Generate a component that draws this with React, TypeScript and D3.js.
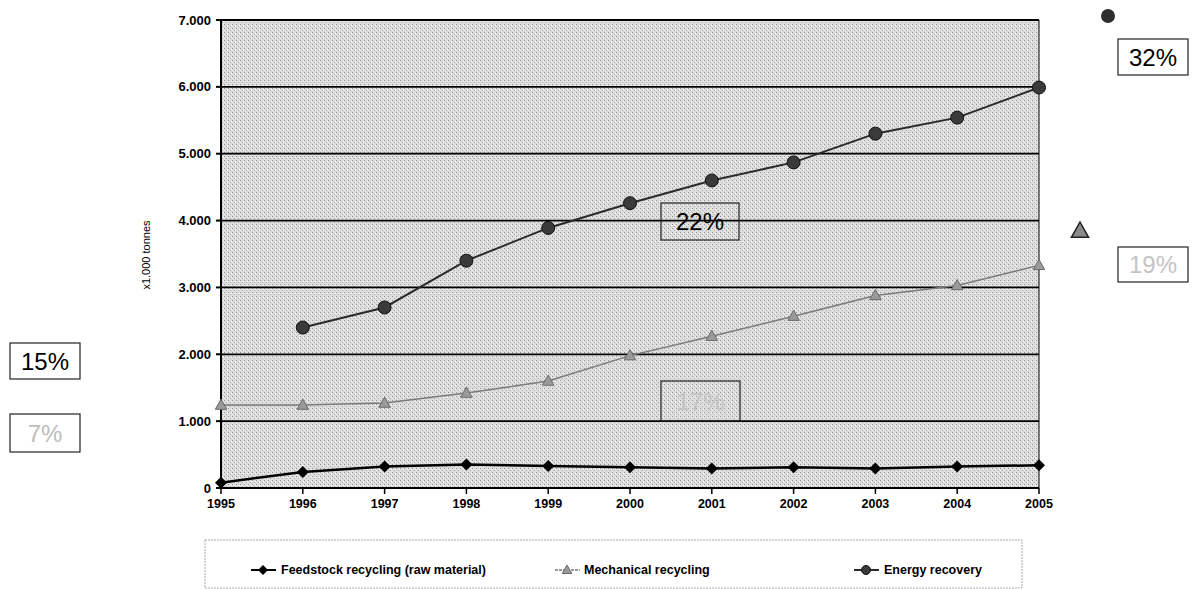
import React from "react";
import * as d3 from "d3";

const years = [1995, 1996, 1997, 1998, 1999, 2000, 2001, 2002, 2003, 2004, 2005];
const feedstock = [80, 240, 320, 350, 330, 310, 290, 310, 290, 320, 340];
const mechanical = [1240, 1240, 1270, 1420, 1600, 1980, 2270, 2570, 2880, 3030, 3330];
const energy: (number | null)[] = [null, 2400, 2700, 3400, 3890, 4260, 4600, 4870, 5300, 5540, 5990];
const yTicks = [0, 1000, 2000, 3000, 4000, 5000, 6000, 7000];
const yTickLabels = ["0", "1.000", "2.000", "3.000", "4.000", "5.000", "6.000", "7.000"];
const seriesNames = ["Feedstock recycling (raw material)", "Mechanical recycling", "Energy recovery"];
const yTitle = "x1.000 tonnes";

type Note = { text: string; x: number; y: number; w: number; h: number; color: string };
const notes: Note[] = [
  { text: "15%", x: 10, y: 343, w: 70, h: 36, color: "#000" },
  { text: "7%", x: 10, y: 414, w: 70, h: 38, color: "#bdbdbd" },
  { text: "22%", x: 661, y: 203, w: 78, h: 37, color: "#000" },
  { text: "17%", x: 661, y: 381, w: 79, h: 40, color: "#c4c4c4" },
  { text: "32%", x: 1118, y: 39, w: 70, h: 36, color: "#000" },
  { text: "19%", x: 1118, y: 247, w: 70, h: 35, color: "#c4c4c4" },
];

const FONT = "'Liberation Sans', Arial, sans-serif";

export default function App() {
  const W = 1202, H = 589;
  const left = 221, right = 1039, top = 20, bottom = 488;
  const x = d3.scaleLinear().domain([1995, 2005]).range([left, right]);
  const y = d3.scaleLinear().domain([0, 7000]).range([bottom, top]);

  const lineF = d3.line<number>().x((_, i) => x(years[i])).y((d) => y(d));
  const lineE = d3
    .line<number | null>()
    .defined((d) => d != null)
    .x((_, i) => x(years[i]))
    .y((d) => y(d as number));

  const diamond = (cx: number, cy: number, r: number) =>
    `M${cx},${cy - r}L${cx + r},${cy}L${cx},${cy + r}L${cx - r},${cy}Z`;
  const tri = (cx: number, cy: number, r: number) =>
    `M${cx},${cy - r}L${cx + r * 0.95},${cy + r * 0.7}L${cx - r * 0.95},${cy + r * 0.7}Z`;

  return (
    <svg width={W} height={H} style={{ position: "absolute", left: 0, top: 0, background: "#fff" }}>
      <defs>
        <pattern id="tex" width="4" height="4" patternUnits="userSpaceOnUse">
          <rect width="4" height="4" fill="#dedede" />
          <rect x="0" y="0" width="1" height="1" fill="#939393" />
          <rect x="2" y="2" width="1" height="1" fill="#a8a8a8" />
          <rect x="3" y="1" width="1" height="1" fill="#f4f4f4" />
        </pattern>
      </defs>
      <rect x={left} y={top} width={right - left} height={bottom - top} fill="url(#tex)" />
      {yTicks.map((t) => (
        <line key={"g" + t} x1={left} x2={right} y1={y(t)} y2={y(t)} stroke="#000" strokeWidth={t === 0 ? 2 : 1.8} />
      ))}
      <line x1={right} x2={right} y1={top} y2={bottom} stroke="#000" strokeWidth={1} />
      <line x1={left} x2={left} y1={top} y2={bottom} stroke="#000" strokeWidth={2} />
      {yTicks.map((t, i) => (
        <g key={"yt" + t}>
          <line x1={left - 5} x2={left} y1={y(t)} y2={y(t)} stroke="#000" strokeWidth={2} />
          <text x={left - 10} y={y(t)} dy="0.35em" textAnchor="end" fontFamily={FONT} fontWeight="bold" fontSize={13}>
            {yTickLabels[i]}
          </text>
        </g>
      ))}
      <text
        transform={`translate(150,255) rotate(-90)`}
        textAnchor="middle"
        fontFamily={FONT}
        fontSize={11}
      >
        {yTitle}
      </text>
      {years.map((yr) => (
        <g key={"xt" + yr}>
          <line x1={x(yr)} x2={x(yr)} y1={bottom} y2={bottom + 6} stroke="#000" strokeWidth={1.5} />
          <text x={x(yr)} y={bottom + 20} textAnchor="middle" fontFamily={FONT} fontWeight="bold" fontSize={12.5}>
            {yr}
          </text>
        </g>
      ))}
      <path d={lineE(energy) || ""} fill="none" stroke="#2a2a2a" strokeWidth={2} />
      <path d={lineF(mechanical) || ""} fill="none" stroke="#7a7a7a" strokeWidth={1.5} />
      <path d={lineF(feedstock) || ""} fill="none" stroke="#000" strokeWidth={2.5} />
      {energy.map((v, i) =>
        v == null ? null : <circle key={"e" + i} cx={x(years[i])} cy={y(v)} r={6.5} fill="#3a3a3a" stroke="#111" strokeWidth={1} />
      )}
      {mechanical.map((v, i) => (
        <path key={"m" + i} d={tri(x(years[i]), y(v), 6)} fill="#9a9a9a" stroke="#6a6a6a" strokeWidth={1} />
      ))}
      {feedstock.map((v, i) => (
        <path key={"f" + i} d={diamond(x(years[i]), y(v), 6)} fill="#000" />
      ))}
      <rect x={205} y={540} width={817} height={48} fill="#fff" stroke="#aaa" strokeWidth={1} strokeDasharray="2,1" />
      <g>
        <line x1={251} x2={276} y1={570} y2={570} stroke="#000" strokeWidth={2} />
        <path d={diamond(263, 570, 5)} fill="#000" />
        <text x={281} y={570} dy="0.35em" fontFamily={FONT} fontWeight="bold" fontSize={12.5}>{seriesNames[0]}</text>
        <line x1={555} x2={580} y1={570} y2={570} stroke="#7a7a7a" strokeWidth={1.5} strokeDasharray="3,1" />
        <path d={tri(567, 570, 5)} fill="#9a9a9a" stroke="#6a6a6a" />
        <text x={584} y={570} dy="0.35em" fontFamily={FONT} fontWeight="bold" fontSize={12.5}>{seriesNames[1]}</text>
        <line x1={854} x2={879} y1={570} y2={570} stroke="#2a2a2a" strokeWidth={2} />
        <circle cx={866} cy={570} r={4.5} fill="#3a3a3a" stroke="#111" />
        <text x={884} y={570} dy="0.35em" fontFamily={FONT} fontWeight="bold" fontSize={12.5}>{seriesNames[2]}</text>
      </g>
      <circle cx={1108} cy={16} r={7} fill="#2e2e2e" />
      <path d={tri(1080, 231, 9)} fill="#8a8a8a" stroke="#222" strokeWidth={1.5} />
      {notes.map((n) => (
        <g key={n.text}>
          <rect x={n.x} y={n.y} width={n.w} height={n.h} fill="none" stroke="#222" strokeWidth={1.2} />
          <text
            x={n.x + n.w / 2}
            y={n.y + n.h / 2}
            dy="0.36em"
            textAnchor="middle"
            fontFamily={FONT}
            fontSize={24}
            fill={n.color}
          >
            {n.text}
          </text>
        </g>
      ))}
    </svg>
  );
}
